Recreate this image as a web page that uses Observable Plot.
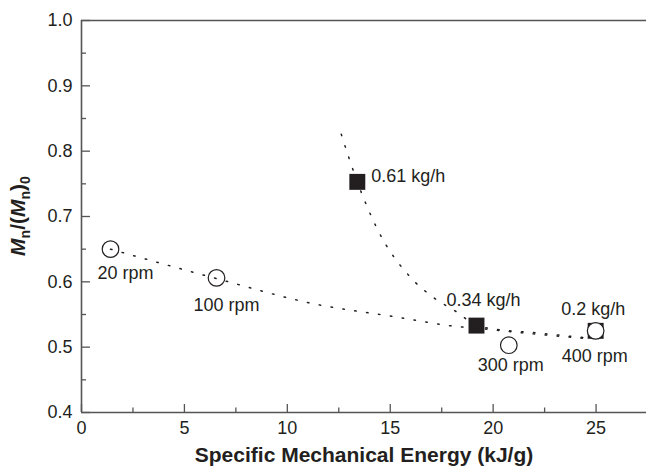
<!DOCTYPE html>
<html><head><meta charset="utf-8">
<script src="https://cdn.jsdelivr.net/npm/d3@7"></script>
<script src="https://cdn.jsdelivr.net/npm/@observablehq/plot@0.6"></script>
<style>body{margin:0;background:#fff} #chart svg{display:block}</style>
</head><body><div id="chart"></div>
<script>
// Points varied by screw speed (open circles)
const rpmLabels = ["20 rpm", "100 rpm", "300 rpm", "400 rpm"];
const rpmSME = [1.41, 6.56, 20.76, 24.98];
const rpmRatio = [0.650, 0.606, 0.503, 0.525];
// Points varied by feed rate (filled squares)
const feedLabels = ["0.61 kg/h", "0.34 kg/h", "0.2 kg/h"];
const feedSME = [13.40, 19.19, 24.98];
const feedRatio = [0.753, 0.533, 0.525];
// Dotted trend lines
const trendRpmX = [1.41, 6.56, 11.27, 15.34, 18.25, 19.19, 22.06, 24.6];
const trendRpmY = [0.650, 0.605, 0.5665, 0.546, 0.5316, 0.529, 0.520, 0.513];
const trendFeedX = [12.62, 13.40, 14.37, 15.98, 17.1, 18.27, 19.19, 20.0, 22.06, 24.6];
const trendFeedY = [0.826, 0.753, 0.681, 0.607, 0.576, 0.553, 0.533, 0.528, 0.522, 0.514];
// Axes
const xMajorTicks = [0, 5, 10, 15, 20, 25];
const xMinorTicks = [2.5, 7.5, 12.5, 17.5, 22.5];
const yMajorTicks = [0.4, 0.5, 0.6, 0.7, 0.8, 0.9, 1.0];
const yMinorTicks = [0.45, 0.55, 0.65, 0.75, 0.85, 0.95];
const xTitle = "Specific Mechanical Energy (kJ/g)";

const W = 646, H = 469, mL = 81, mR = 0, mT = 20, mB = 57;
const fw = W - mL - mR, fh = H - mT - mB;
const ink = "#231f20", axisInk = "#555";

const idx = a => a.map((_, i) => i);
const rpmOffsets = [{dx: 15, dy: 24}, {dx: 10, dy: 27}, {dx: 2, dy: 20}, {dx: -1, dy: 25}];
const feedOffsets = [{dx: 14, dy: -6, a: "start"}, {dx: 7, dy: -25, a: "middle"}, {dx: -2.5, dy: -22, a: "middle"}];

const plot = Plot.plot({
  width: W, height: H,
  marginLeft: mL, marginRight: mR, marginTop: mT, marginBottom: mB,
  style: {fontFamily: "'Liberation Sans', Arial, sans-serif", fontSize: "18px", color: ink, background: "#fff"},
  x: {domain: [0, 27.45]},
  y: {domain: [0.4, 1.0]},
  marks: [
    // frame lines
    Plot.ruleX([0], {stroke: axisInk, strokeWidth: 1.6}),
    Plot.ruleY([0.4, 1.0], {stroke: axisInk, strokeWidth: 1.6}),
    // inward ticks
    Plot.tickX(xMajorTicks, {x: d => d, insetTop: fh - 8, stroke: axisInk, strokeWidth: 1.3}),
    Plot.tickX(xMinorTicks, {x: d => d, insetTop: fh - 4.5, stroke: axisInk, strokeWidth: 1.3}),
    Plot.tickY(yMajorTicks, {y: d => d, insetRight: fw - 9, stroke: axisInk, strokeWidth: 1.3}),
    Plot.tickY(yMinorTicks, {y: d => d, insetRight: fw - 5, stroke: axisInk, strokeWidth: 1.3}),
    Plot.axisX({ticks: xMajorTicks, tickSize: 0, tickPadding: 9, label: null, fill: ink}),
    Plot.axisY({ticks: yMajorTicks, tickSize: 0, tickPadding: 9, label: null, fill: ink, tickFormat: d3.format(".1f")}),
    // points
    Plot.dot(idx(feedSME), {x: i => feedSME[i], y: i => feedRatio[i], symbol: "square", r: 9, fill: ink, stroke: "none"}),
    Plot.dot(idx(rpmSME), {x: i => rpmSME[i], y: i => rpmRatio[i], symbol: "circle", r: 8.3, fill: "#fff", stroke: ink, strokeWidth: 1.2}),
    // dotted trends
    Plot.line(idx(trendRpmX), {x: i => trendRpmX[i], y: i => trendRpmY[i], curve: "monotone-x", stroke: ink, strokeWidth: 1.5, strokeDasharray: "1.5,10.5"}),
    Plot.line(idx(trendFeedX), {x: i => trendFeedX[i], y: i => trendFeedY[i], curve: "monotone-x", stroke: ink, strokeWidth: 1.5, strokeDasharray: "1.5,10.5"}),
    // annotations
    ...rpmLabels.map((t, i) => Plot.text([i], {x: j => rpmSME[j], y: j => rpmRatio[j], text: j => rpmLabels[j], dx: rpmOffsets[i].dx, dy: rpmOffsets[i].dy, textAnchor: "middle", lineAnchor: "middle", fill: ink, fontSize: 18})),
    ...feedLabels.map((t, i) => Plot.text([i], {x: j => feedSME[j], y: j => feedRatio[j], text: j => feedLabels[j], dx: feedOffsets[i].dx, dy: feedOffsets[i].dy, textAnchor: feedOffsets[i].a, lineAnchor: "middle", fill: ink, fontSize: 18})),
    // x title
    Plot.text([xTitle], {frameAnchor: "bottom", text: d => d, dy: 43, lineAnchor: "middle", fontWeight: "bold", fontSize: 21, fill: ink})
  ]
});

// y title with italic M and subscripts
const yr = plot.scale("y").range;
const yMid = (yr[0] + yr[1]) / 2;
const t = d3.select(plot).append("text")
  .attr("transform", `translate(${mL - 56},${yMid}) rotate(-90)`)
  .attr("text-anchor", "middle")
  .attr("font-weight", "bold")
  .attr("font-size", 21)
  .attr("fill", ink);
t.append("tspan").attr("font-style", "italic").text("M");
t.append("tspan").attr("font-size", 14).attr("dy", 5).text("n");
t.append("tspan").attr("dy", -5).text("/(");
t.append("tspan").attr("font-style", "italic").text("M");
t.append("tspan").attr("font-size", 14).attr("dy", 5).text("n");
t.append("tspan").attr("dy", -5).text(")");
t.append("tspan").attr("font-size", 14).attr("dy", 5).text("0");

document.getElementById("chart").append(plot);
</script>
</body></html>
